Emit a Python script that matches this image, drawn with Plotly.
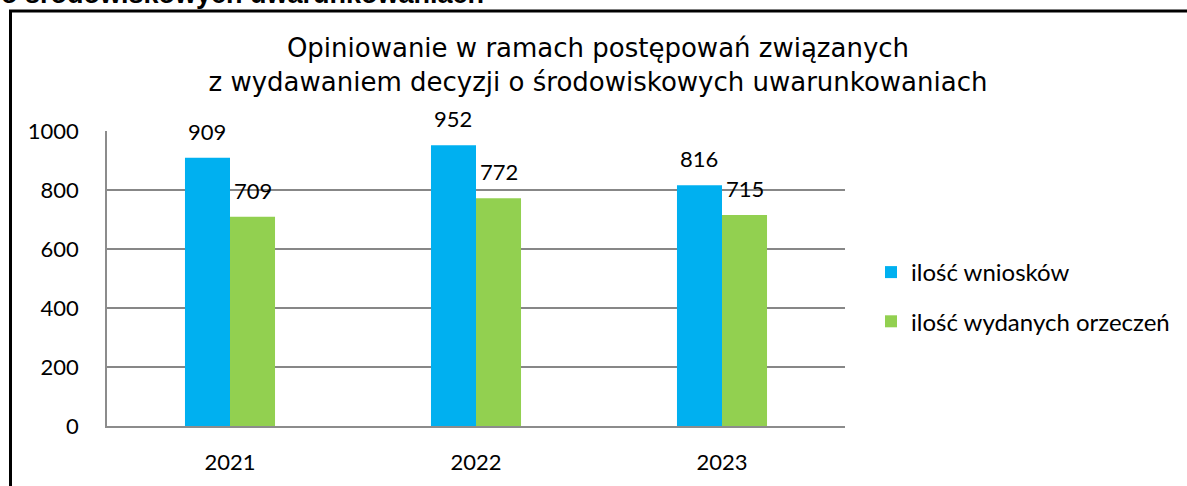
import plotly.graph_objects as go

years = ["2021", "2022", "2023"]
wnioski = [909, 952, 816]
orzeczenia = [709, 772, 715]
series_names = ["ilość wniosków", "ilość wydanych orzeczeń"]
series_colors = ["#00B0F0", "#92D050"]
y_ticks = [0, 200, 400, 600, 800, 1000]
chart_title = "Opiniowanie w ramach postępowań związanych<br>z wydawaniem decyzji o środowiskowych uwarunkowaniach"
doc_heading = "o środowiskowych uwarunkowaniach"

W, H = 1187, 486
L, R, T, B = 107, 342, 131, 60
PW, PH = W - L - R, H - T - B
BARGAP = 0.634


def px_x(p):
    """screen pixel -> paper x"""
    return (p - L) / PW


def px_y(p):
    """screen pixel -> paper y"""
    return (H - B - p) / PH


fig = go.Figure()
all_series = [wnioski, orzeczenia]
for k, (name, vals, col) in enumerate(zip(series_names, all_series, series_colors)):
    fig.add_trace(go.Bar(
        x=years, y=vals, name=name, marker_color=col, marker_line_width=0,
        legendgroup=name,
    ))

# data labels above bars
gw = 1 - BARGAP
n = len(all_series)
for k, vals in enumerate(all_series):
    off = -gw / 2 + gw / n * (k + 0.5)
    for i, v in enumerate(vals):
        fig.add_annotation(
            x=i + off, y=v, xref="x", yref="y", text=str(v), showarrow=False,
            yanchor="bottom", yshift=11,
            font=dict(family="Lato", size=22, color="#000000"),
        )

# clipped document heading at top
fig.add_annotation(
    x=px_x(-1), y=px_y(11), xref="paper", yref="paper", xanchor="left", yanchor="bottom",
    text="<b>" + doc_heading + "</b>", showarrow=False,
    font=dict(family="Liberation Sans", size=27, color="#000000"),
)

# frame around the chart
fig.add_shape(
    type="rect", xref="paper", yref="paper",
    x0=px_x(10.5), x1=px_x(1300), y0=px_y(600), y1=px_y(11),
    line=dict(color="#000000", width=3), fillcolor="rgba(0,0,0,0)", layer="above",
)

fig.update_layout(
    width=W, height=H,
    margin=dict(l=L, r=R, t=T, b=B, pad=0),
    paper_bgcolor="white", plot_bgcolor="white",
    barmode="group", bargap=BARGAP, bargroupgap=0,
    title=dict(
        text=chart_title, x=598 / W, xanchor="center", xref="container",
        y=1 - 57 / H, yanchor="top", yref="container",
        font=dict(family="DejaVu Sans", size=26, color="#000000"),
    ),
    legend=dict(
        x=px_x(871), xanchor="left", y=px_y(297), yanchor="middle",
        font=dict(family="Lato", size=24, color="#000000"),
        bgcolor="rgba(0,0,0,0)", tracegroupgap=15, traceorder="grouped",
    ),
    xaxis=dict(
        type="category", showline=True, linecolor="#8C8C8C", linewidth=2,
        showgrid=False, ticks="", ticklabelstandoff=16,
        tickfont=dict(family="Lato", size=22, color="#000000"),
    ),
    yaxis=dict(
        range=[0, 1000], tickvals=y_ticks, showline=True, linecolor="#8C8C8C", linewidth=1.5,
        showgrid=True, gridcolor="#878787", gridwidth=1.5, zeroline=False,
        ticks="", ticklabelstandoff=22,
        tickfont=dict(family="Lato", size=22, color="#000000"),
    ),
    showlegend=True,
)

fig.write_html("out.html", config={"displayModeBar": False},
               post_script="document.body.style.margin='0px';")
